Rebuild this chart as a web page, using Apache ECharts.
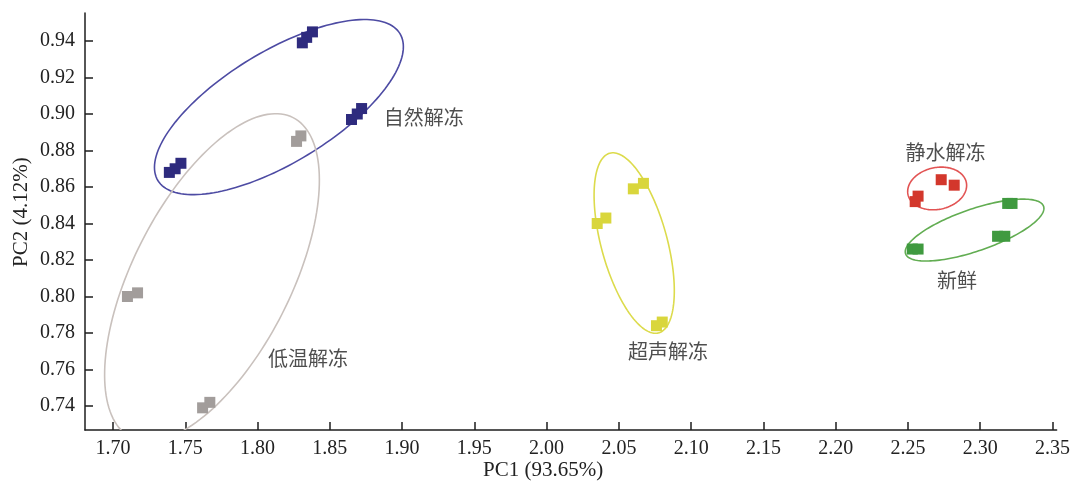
<!DOCTYPE html>
<html>
<head>
<meta charset="utf-8">
<title>PCA</title>
<script src="https://cdn.jsdelivr.net/npm/echarts@6/dist/echarts.min.js"></script>
<style>
  html, body { margin: 0; padding: 0; background: #fff; }
  #chart { width: 1073px; height: 484px; }
</style>
</head>
<body>
<div id="chart"></div>
<script>
// Tick values on both axes
const xTicks = [1.70, 1.75, 1.80, 1.85, 1.90, 1.95, 2.00, 2.05, 2.10, 2.15, 2.20, 2.25, 2.30, 2.35];
const yTicks = [0.74, 0.76, 0.78, 0.80, 0.82, 0.84, 0.86, 0.88, 0.90, 0.92, 0.94];

// Group names
const groupNames = ['自然解冻', '低温解冻', '超声解冻', '静水解冻', '新鲜'];

// PC1 / PC2 scores of the replicates in each group
const naturalPC1 = [1.838, 1.834, 1.831, 1.872, 1.869, 1.865, 1.747, 1.743, 1.739];
const naturalPC2 = [0.945, 0.942, 0.939, 0.903, 0.900, 0.897, 0.873, 0.870, 0.868];

const lowTempPC1 = [1.830, 1.827, 1.717, 1.710, 1.767, 1.762];
const lowTempPC2 = [0.888, 0.885, 0.802, 0.800, 0.742, 0.739];

const ultrasonicPC1 = [2.067, 2.060, 2.041, 2.035, 2.080, 2.076];
const ultrasonicPC2 = [0.862, 0.859, 0.843, 0.840, 0.786, 0.784];

const stillWaterPC1 = [2.273, 2.282, 2.257, 2.255];
const stillWaterPC2 = [0.864, 0.861, 0.855, 0.852];

const freshPC1 = [2.319, 2.322, 2.312, 2.317, 2.253, 2.257];
const freshPC2 = [0.851, 0.851, 0.833, 0.833, 0.826, 0.826];

// Confidence ellipses: centre and two conjugate semi-axis vectors (data units)
const ellipseCenter = [[1.8148, 0.9038], [1.7685, 0.8104], [2.0606, 0.8293], [2.2702, 0.8592], [2.2961, 0.8364]];
const ellipseAxisU  = [[0.08375, 0.04022], [0.05609, 0.08762], [0.01688, -0.04923], [0.02018, 0.00331], [0.04773, 0.01302]];
const ellipseAxisV  = [[0.01999, -0.02614], [0.04872, -0.01958], [0.02203, 0.00474], [0.00293, -0.01122], [0.00473, -0.01088]];

// Where each group name sits (data units)
const labelPC1 = [1.915, 1.835, 2.084, 2.276, 2.284];
const labelPC2 = [0.898, 0.766, 0.770, 0.879, 0.809];

const markerColors  = ['#2e2b7e', '#a29d9b', '#d9d63c', '#d3372c', '#3f9a3f'];
const ellipseColors = ['#4d4ba3', '#c9c1bd', '#dcdb4c', '#e25454', '#62ad52'];

const groupPC1 = [naturalPC1, lowTempPC1, ultrasonicPC1, stillWaterPC1, freshPC1];
const groupPC2 = [naturalPC2, lowTempPC2, ultrasonicPC2, stillWaterPC2, freshPC2];

const serif = '"Liberation Serif", "Times New Roman", serif';
const cjk = '"Noto Sans CJK SC", sans-serif';

const chart = echarts.init(document.getElementById('chart'), null, { renderer: 'canvas' });

const series = [];

// Ellipses drawn as sampled polylines through the axes' scales
series.push({
  type: 'custom',
  name: 'ellipses',
  z: 1,
  silent: true,
  data: ellipseCenter.map((c, i) => [c[0], c[1], i]),
  renderItem: function (params, api) {
    const i = api.value(2);
    const c = ellipseCenter[i], u = ellipseAxisU[i], v = ellipseAxisV[i];
    const pts = [];
    const n = 160;
    for (let k = 0; k <= n; k++) {
      const t = (k / n) * Math.PI * 2;
      const px = c[0] + u[0] * Math.cos(t) + v[0] * Math.sin(t);
      const py = c[1] + u[1] * Math.cos(t) + v[1] * Math.sin(t);
      pts.push(api.coord([px, py]));
    }
    const cs = params.coordSys;
    return {
      type: 'group',
      clipPath: { type: 'rect', shape: { x: cs.x, y: cs.y, width: cs.width, height: cs.height } },
      children: [{
        type: 'polyline',
        shape: { points: pts },
        style: { stroke: ellipseColors[i], fill: null, lineWidth: 1.6 }
      }]
    };
  }
});

// Replicate markers
groupNames.forEach((name, g) => {
  series.push({
    type: 'scatter',
    name: name,
    z: 3,
    symbol: 'rect',
    symbolSize: 11,
    itemStyle: { color: markerColors[g], opacity: 1 },
    data: groupPC1[g].map((x, k) => [x, groupPC2[g][k]])
  });
});

// Group names
series.push({
  type: 'scatter',
  name: 'labels',
  z: 4,
  symbolSize: 0,
  silent: true,
  data: groupNames.map((n, i) => ({ value: [labelPC1[i], labelPC2[i]], name: n })),
  label: {
    show: true,
    position: 'inside',
    formatter: p => p.name,
    fontFamily: cjk,
    fontSize: 20,
    color: '#222'
  }
});

const option = {
  backgroundColor: '#ffffff',
  animation: false,
  grid: { left: 85, right: 16, top: 13, bottom: 54, containLabel: false },
  xAxis: {
    type: 'value',
    min: 1.68064,
    max: 2.35284,
    axisLine: { show: true, onZero: false, lineStyle: { color: '#1e1e1e', width: 1.5 } },
    axisTick: { show: true, inside: true, length: 8, customValues: xTicks, lineStyle: { color: '#1e1e1e', width: 1.5 } },
    axisLabel: {
      customValues: xTicks,
      formatter: v => v.toFixed(2),
      fontFamily: serif, fontSize: 20, color: '#222', margin: 9
    },
    splitLine: { show: false }
  },
  yAxis: {
    type: 'value',
    min: 0.72685,
    max: 0.95535,
    axisLine: { show: true, onZero: false, lineStyle: { color: '#1e1e1e', width: 1.5 } },
    axisTick: { show: true, inside: true, length: 8, customValues: yTicks, lineStyle: { color: '#1e1e1e', width: 1.5 } },
    axisLabel: {
      customValues: yTicks,
      formatter: v => v.toFixed(2),
      fontFamily: serif, fontSize: 20, color: '#222', margin: 10
    },
    splitLine: { show: false }
  },
  graphic: [
    {
      type: 'text',
      left: 483, top: 460,
      style: { text: 'PC1 (93.65%)', font: '21px ' + serif, fill: '#222' }
    },
    {
      type: 'text',
      x: 11, y: 267,
      rotation: Math.PI / 2,
      style: { text: 'PC2 (4.12%)', font: '21px ' + serif, fill: '#222' }
    }
  ],
  series: series
};

chart.setOption(option);
</script>
</body>
</html>
